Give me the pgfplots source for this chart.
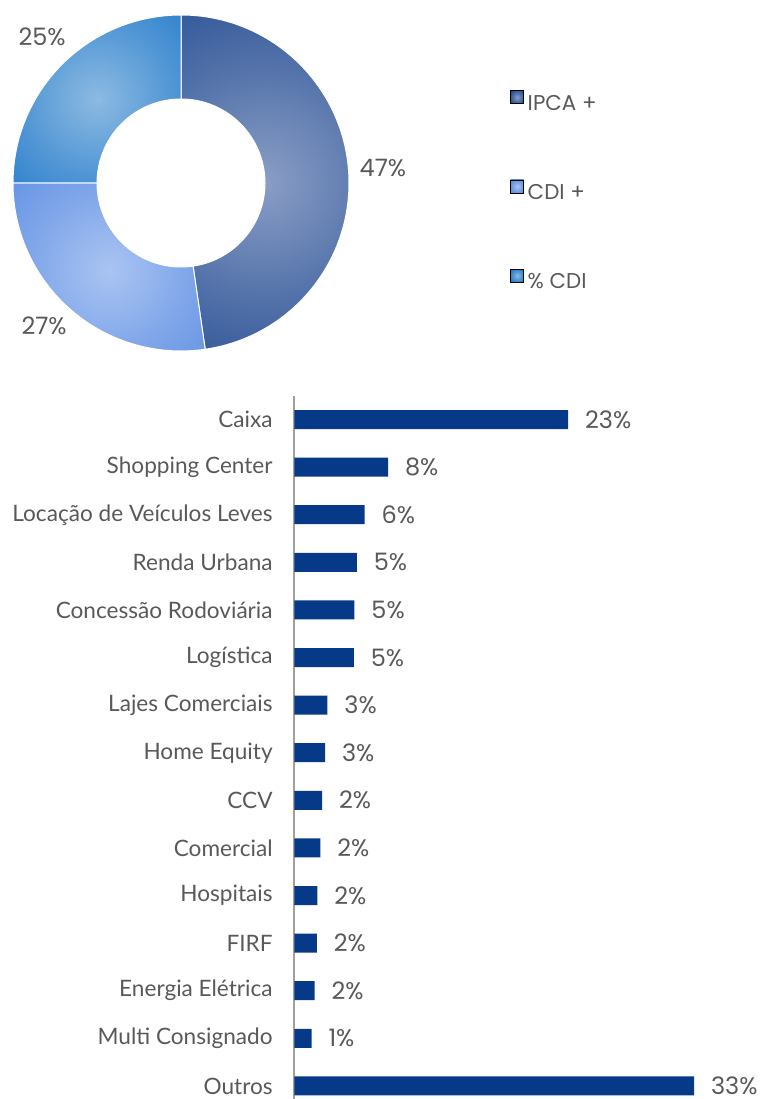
\documentclass[border=0pt]{standalone}
\usepackage{pgfplots}
\pgfplotsset{compat=1.18}
\usepackage{pgfplotstable}
\usetikzlibrary{calc}
\usepackage{fontspec}
\setmainfont{Lato}
\newfontfamily\pop{Poppins}
\definecolor{txt}{RGB}{89,89,89}
\definecolor{axgray}{RGB}{160,160,160}
\definecolor{barblue}{RGB}{6,58,136}
\definecolor{ipcaout}{RGB}{26,68,140}
\definecolor{ipcain}{RGB}{138,158,198}
\definecolor{cdiout}{RGB}{82,134,224}
\definecolor{cdiin}{RGB}{170,196,242}
\definecolor{pcdiout}{RGB}{22,114,200}
\definecolor{pcdiin}{RGB}{140,186,226}
\colorlet{ipcamid}{ipcain!50!ipcaout}
\colorlet{cdimid}{cdiin!50!cdiout}
\colorlet{pcdimid}{pcdiin!50!pcdiout}
\pgfdeclareradialshading{shipca}{\pgfpoint{0bp}{0bp}}{color(0bp)=(ipcain); color(16bp)=(ipcamid); color(34bp)=(ipcaout); color(50bp)=(ipcaout)}
\pgfdeclareradialshading{shcdi}{\pgfpoint{0bp}{0bp}}{color(0bp)=(cdiin); color(16bp)=(cdimid); color(34bp)=(cdiout); color(50bp)=(cdiout)}
\pgfdeclareradialshading{shpcdi}{\pgfpoint{0bp}{0bp}}{color(0bp)=(pcdiin); color(16bp)=(pcdimid); color(34bp)=(pcdiout); color(50bp)=(pcdiout)}
\tikzset{
  slice/.style={path picture={
    \shade[shading=#1] let \p1=($(path picture bounding box.north east)-(path picture bounding box.center)$),
      \n1={veclen(\x1,\y1)} in (path picture bounding box.center) circle[radius=\n1];
  }, draw=white, line width=0.5pt},
}

\pgfplotstableread{
idx val lab
0 22.8 23
1 7.8 8
2 5.85 6
3 5.2 5
4 5.0 5
5 4.95 5
6 2.75 3
7 2.55 3
8 2.3 2
9 2.15 2
10 1.9 2
11 1.87 2
12 1.67 2
13 1.42 1
14 33.3 33
}\bars

\pgfplotstableread{
name share
IPCA 47.7
CDI 27.3
PCDI 25.0
}\donut

\begin{document}%
\pgfplotstablegetelem{0}{share}\of\donut\let\sA\pgfplotsretval%
\pgfplotstablegetelem{1}{share}\of\donut\let\sB\pgfplotsretval%
\pgfplotstablegetelem{2}{share}\of\donut\let\sC\pgfplotsretval%
\pgfmathsetmacro{\aA}{90}%
\pgfmathsetmacro{\aB}{90-3.6*\sA}%
\pgfmathsetmacro{\aC}{\aB-3.6*\sB}%
\pgfmathsetmacro{\aD}{\aC-3.6*\sC}%
\begin{tikzpicture}
\useasboundingbox (0,0) rectangle (381pt,549.5pt);
% donut
\begin{axis}[
  at={(90.5pt,458pt)}, anchor=origin,
  x=84pt, y=84pt, xmin=-1, xmax=1, ymin=-1, ymax=1,
  hide axis, clip=false,
  legend style={draw=none, fill=none, at={(1.479,0.777)}, anchor=north west,
    inner sep=0pt, row sep=34.6pt, column sep=1.8pt,
    font=\pop\fontsize{10.7}{12}\selectfont, text=txt,
    nodes={inner sep=0pt, text height=7.8pt, text depth=0pt}},
  legend cell align=left,
]
\path[slice=shipca] ($(axis cs:0,0)+(\aA:84pt)$) arc[start angle=\aA, end angle=\aB, radius=84pt] -- ($(axis cs:0,0)+(\aB:42pt)$) arc[start angle=\aB, end angle=\aA, radius=42pt] -- cycle;
\path[slice=shcdi] ($(axis cs:0,0)+(\aB:84pt)$) arc[start angle=\aB, end angle=\aC, radius=84pt] -- ($(axis cs:0,0)+(\aC:42pt)$) arc[start angle=\aC, end angle=\aB, radius=42pt] -- cycle;
\path[slice=shpcdi] ($(axis cs:0,0)+(\aC:84pt)$) arc[start angle=\aC, end angle=\aD, radius=84pt] -- ($(axis cs:0,0)+(\aD:42pt)$) arc[start angle=\aD, end angle=\aC, radius=42pt] -- cycle;
\addlegendimage{legend image code/.code={\shade[shading=shipca] (0pt,-0.6pt) rectangle (6.5pt,5.9pt);}}
\addlegendentry{IPCA +}
\addlegendimage{legend image code/.code={\shade[shading=shcdi] (0pt,-0.6pt) rectangle (6.5pt,5.9pt);}}
\addlegendentry{CDI +}
\addlegendimage{legend image code/.code={\shade[shading=shpcdi] (0pt,-0.6pt) rectangle (6.5pt,5.9pt);}}
\addlegendentry{\% CDI}
\node[font=\pop\fontsize{12}{13}\selectfont, text=txt] at (axis cs:1.202,0.089) {47\%};
\node[font=\pop\fontsize{12}{13}\selectfont, text=txt] at (axis cs:-0.815,-0.851) {27\%};
\node[font=\pop\fontsize{12}{13}\selectfont, text=txt] at (axis cs:-0.827,0.869) {25\%};
\end{axis}
% bars
\begin{axis}[
  at={(147.25pt,339.75pt)}, anchor=origin,
  x=6pt, y=23.8pt, y dir=reverse,
  xmin=0, xmax=38.9, ymin=-0.49, ymax=14.27,
  axis x line=none, axis y line=left,
  axis line style={-, draw=axgray, line width=1pt},
  ytick={0,...,14},
  yticklabels={Caixa, Shopping Center, Locação de Veículos Leves, Renda Urbana, Concessão Rodoviária, Logística, Lajes Comerciais, Home Equity, CCV, Comercial, Hospitais, FIRF, Energia Elétrica, Multi Consignado, Outros},
  major tick length=0pt,
  yticklabel style={font=\fontsize{11.3}{13}\selectfont, text=txt, inner sep=0pt, xshift=-10.75pt, anchor=east},
  xbar, clip=false,
]
\addplot[xbar, bar width=9.5pt, fill=barblue, draw=none,
  point meta=explicit symbolic,
  nodes near coords={\pgfplotspointmeta\%},
  nodes near coords style={anchor=west, inner sep=0pt, xshift=8.3pt, text=txt, font=\pop\fontsize{12}{13}\selectfont}]
  table[x=val, y=idx, meta=lab] {\bars};
\end{axis}
\end{tikzpicture}%
\end{document}
